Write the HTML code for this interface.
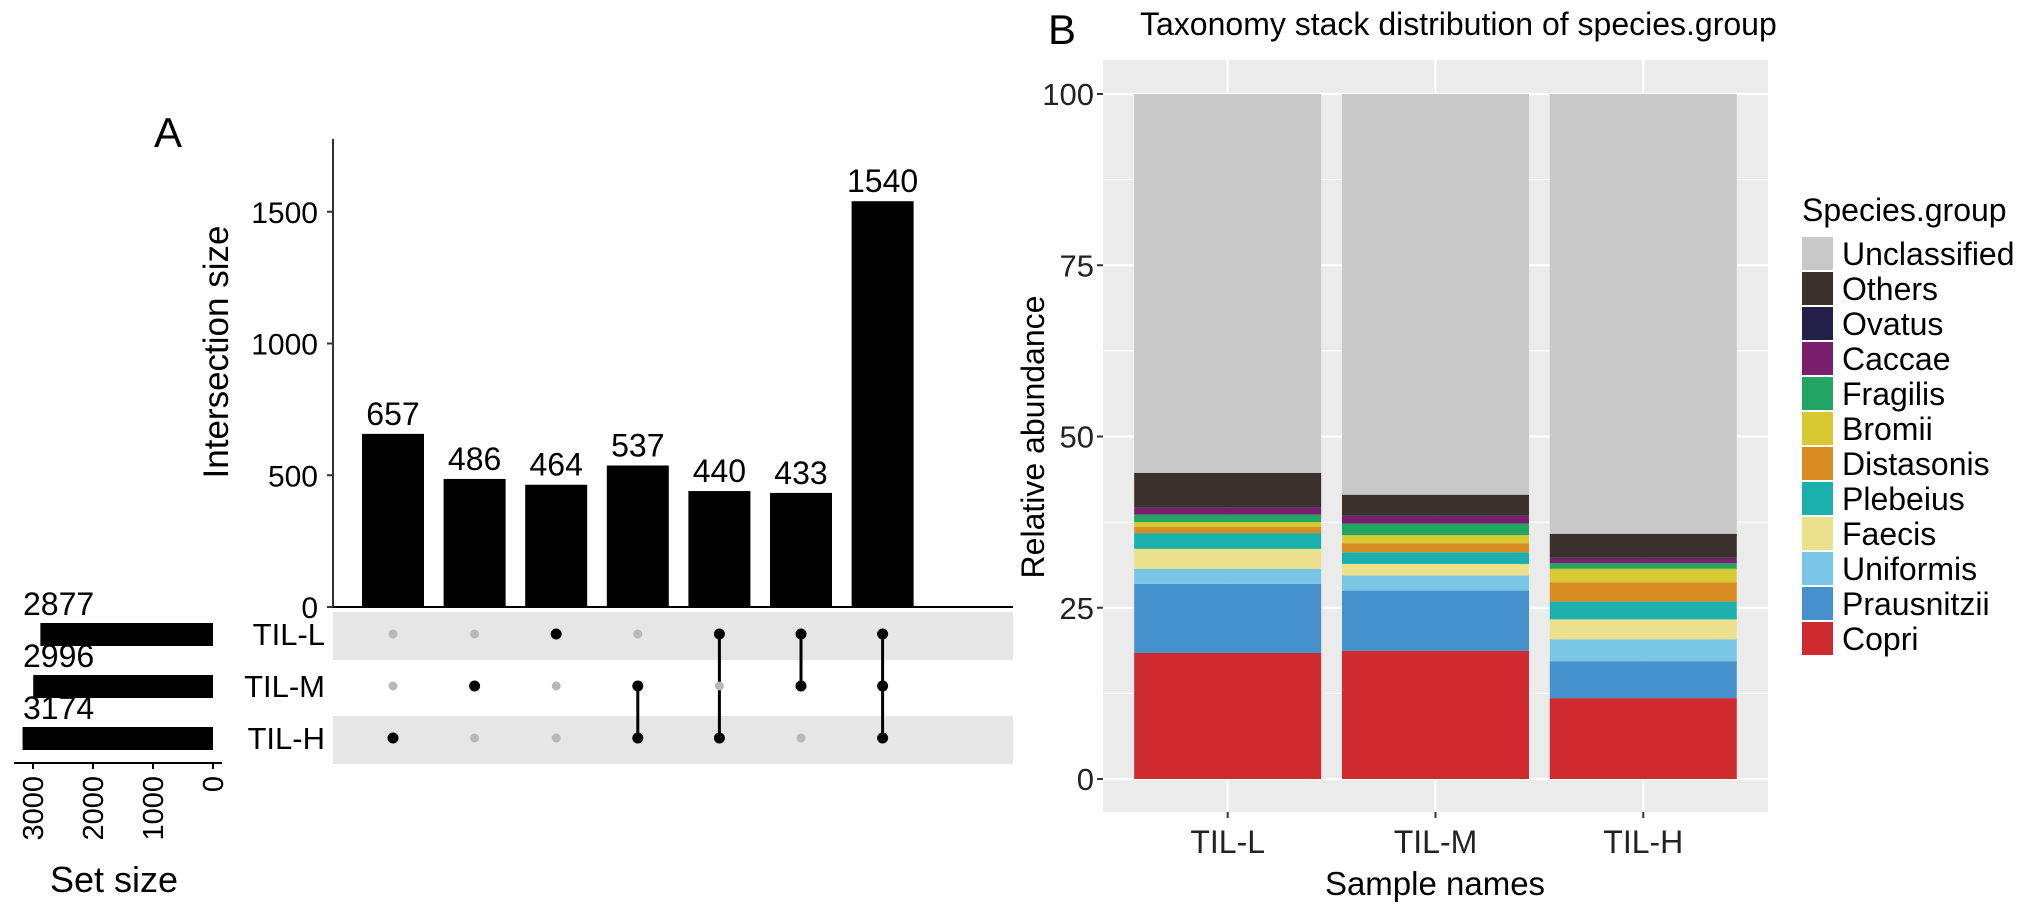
<!DOCTYPE html>
<html><head><meta charset="utf-8"><style>
html,body{margin:0;padding:0;background:#fff}
svg{display:block;font-family:"Liberation Sans",Arial,sans-serif}
</style></head><body>
<svg id="fig" width="2032" height="916" viewBox="0 0 2032 916" xmlns="http://www.w3.org/2000/svg">
<g id="pa"></g>
<g id="pb"></g>
</svg>
<script>
// ---------- Panel A data ----------
const interValues = [657, 486, 464, 537, 440, 433, 1540];
const interSets = [["TIL-H"],["TIL-M"],["TIL-L"],["TIL-M","TIL-H"],["TIL-L","TIL-H"],["TIL-L","TIL-M"],["TIL-L","TIL-M","TIL-H"]];
const setNames = ["TIL-L","TIL-M","TIL-H"];
const setSizes = [2877, 2996, 3174];
const interTicks = [0, 500, 1000, 1500];
const setTicks = [3000, 2000, 1000, 0];
// ---------- Panel B data ----------
const samples = ["TIL-L","TIL-M","TIL-H"];
const species = ["Copri","Prausnitzii","Uniformis","Faecis","Plebeius","Distasonis","Bromii","Fragilis","Caccae","Ovatus","Others","Unclassified"];
const colors = ["#cf2a30","#4690cc","#78c6e4","#ede08c","#1bb0ae","#d98c22","#d8c832","#22a462","#7a1f6e","#25204a","#3a302d","#c8c8c8"];
const abundTIL_L = [18.4,10.1,2.2,2.9,2.3,0.9,0.7,1.1,1.0,0.1,5.0,55.3];
const abundTIL_M = [18.7,8.8,2.2,1.7,1.7,1.3,1.2,1.7,1.1,0.1,3.0,58.5];
const abundTIL_H = [11.8,5.4,3.2,2.9,2.6,2.8,2.0,0.8,0.7,0.1,3.5,64.2];
const abundTicks = [0,25,50,75,100];

const NS="http://www.w3.org/2000/svg";
function mk(parent,tag,attrs,text){const e=document.createElementNS(NS,tag);for(const k in attrs)e.setAttribute(k,attrs[k]);if(text!==undefined)e.textContent=text;parent.appendChild(e);return e;}

// ================= Panel A =================
const pa=document.getElementById('pa');
const yA=v=>607-v*0.2635;
const colX=i=>393+i*81.6;
const rowY=i=>634+i*52;
const setX=v=>213-v*0.06;

let t=mk(pa,'text',{x:168,y:147,'font-size':42,'text-anchor':'middle',fill:'#000'},'A');



[0,2].forEach(i=>{const r=mk(pa,'rect',{x:333,y:rowY(i)-22,width:680,height:48,fill:'#e6e6e6'});

});

let ax=mk(pa,'line',{x1:333,y1:139,x2:333,y2:607,stroke:'#333','stroke-width':2});


let bl=mk(pa,'line',{x1:333,y1:607,x2:1013,y2:607,stroke:'#000','stroke-width':2});


interTicks.forEach(v=>{
  mk(pa,'line',{x1:327,y1:yA(v),x2:333,y2:yA(v),stroke:'#333','stroke-width':2});
  const l=mk(pa,'text',{x:318,y:yA(v)+11,'font-size':30,'text-anchor':'end',fill:'#000'},v);
  
  
});
t=mk(pa,'text',{x:0,y:0,'font-size':35,'text-anchor':'middle',fill:'#000',transform:'translate(228,352) rotate(-90)'},'Intersection size');



interValues.forEach((v,i)=>{
  const b=mk(pa,'rect',{x:colX(i)-31,y:yA(v),width:62,height:607-yA(v),fill:'#000'});
  
  
  const l=mk(pa,'text',{x:colX(i),y:yA(v)-9,'font-size':32,'text-anchor':'middle',fill:'#000'},v);
  
  
  const rows=interSets[i].map(s=>setNames.indexOf(s));
  if(rows.length>1){
    const ln=mk(pa,'line',{x1:colX(i),y1:rowY(Math.min(...rows)),x2:colX(i),y2:rowY(Math.max(...rows)),stroke:'#000','stroke-width':3});
    
    
  }
  setNames.forEach((s,r)=>{
    const on=rows.includes(r);
    const d=mk(pa,'circle',{cx:colX(i),cy:rowY(r),r:on?5.5:4.5,fill:on?'#000':'#b8b8b8'});
    
    
  });
});

setNames.forEach((s,i)=>{
  const l=mk(pa,'text',{x:325,y:rowY(i)+11,'font-size':31,'text-anchor':'end',fill:'#000'},s);
  
  
  const b=mk(pa,'rect',{x:setX(setSizes[i]),y:rowY(i)-11,width:213-setX(setSizes[i]),height:23,fill:'#000'});
  
  
  const v=mk(pa,'text',{x:23,y:rowY(i)-19,'font-size':32,'text-anchor':'start',fill:'#000'},setSizes[i]);
  
  
});
let sa=mk(pa,'line',{x1:14,y1:763,x2:222,y2:763,stroke:'#000','stroke-width':2});


setTicks.forEach(v=>{
  mk(pa,'line',{x1:setX(v),y1:763,x2:setX(v),y2:769,stroke:'#000','stroke-width':2});
  const l=mk(pa,'text',{x:0,y:0,'font-size':29,'text-anchor':'end',fill:'#000',transform:`translate(${setX(v)+10},776) rotate(-90)`},v);
  
  
});
t=mk(pa,'text',{x:114,y:892,'font-size':36,'text-anchor':'middle',fill:'#000'},'Set size');



// ================= Panel B =================
const pb=document.getElementById('pb');
const PL=1103,PR=1768,PT=60,PBm=812;
const yB=v=>779-v*6.85;
const xB=i=>PL+(0.6+i)*207.8;
const BW=187;
t=mk(pb,'text',{x:1076,y:44,'font-size':42,'text-anchor':'end',fill:'#000'},'B');


t=mk(pb,'text',{x:1140,y:35,'font-size':32,'text-anchor':'start',fill:'#000'},'Taxonomy stack distribution of species.group');


let bg=mk(pb,'rect',{x:PL,y:PT,width:PR-PL,height:PBm-PT,fill:'#ebebeb'});


abundTicks.forEach((v,k)=>{
  mk(pb,'line',{x1:PL,x2:PR,y1:yB(v),y2:yB(v),stroke:'#fff','stroke-width':2.2});
  if(k<abundTicks.length-1){const m=(v+abundTicks[k+1])/2;mk(pb,'line',{x1:PL,x2:PR,y1:yB(m),y2:yB(m),stroke:'#fff','stroke-width':1});}
  mk(pb,'line',{x1:PL-6,x2:PL,y1:yB(v),y2:yB(v),stroke:'#333','stroke-width':2});
  const l=mk(pb,'text',{x:PL-9,y:yB(v)+11,'font-size':31,'text-anchor':'end',fill:'#222'},v);
  
  
});
const series=[abundTIL_L,abundTIL_M,abundTIL_H];
samples.forEach((s,i)=>{
  mk(pb,'line',{x1:xB(i),x2:xB(i),y1:PT,y2:PBm,stroke:'#fff','stroke-width':2.2});
  mk(pb,'line',{x1:xB(i),x2:xB(i),y1:PBm,y2:PBm+6,stroke:'#333','stroke-width':2});
  const l=mk(pb,'text',{x:xB(i),y:853,'font-size':32,'text-anchor':'middle',fill:'#222'},s);
  
  
});
samples.forEach((s,i)=>{
  let cum=0;
  series[i].forEach((v,k)=>{
    const r=mk(pb,'rect',{x:xB(i)-BW/2,y:yB(cum+v),width:BW,height:yB(cum)-yB(cum+v),fill:colors[k]});
    
    
    cum+=v;
  });
});
t=mk(pb,'text',{x:0,y:0,'font-size':32,'text-anchor':'middle',fill:'#000',transform:'translate(1044,437) rotate(-90)'},'Relative abundance');


t=mk(pb,'text',{x:1435,y:895,'font-size':33,'text-anchor':'middle',fill:'#000'},'Sample names');


// legend
t=mk(pb,'text',{x:1802,y:221,'font-size':32,fill:'#000'},'Species.group');


for(let j=0;j<species.length;j++){
  const k=species.length-1-j;
  const y=237+j*35;
  const g=mk(pb,'g',{});
  
  
  mk(g,'rect',{x:1802,y:y,width:31,height:33,fill:colors[k]});
  mk(g,'text',{x:1842,y:y+28,'font-size':32,fill:'#000'},species[k]);
}
</script>
</body></html>
